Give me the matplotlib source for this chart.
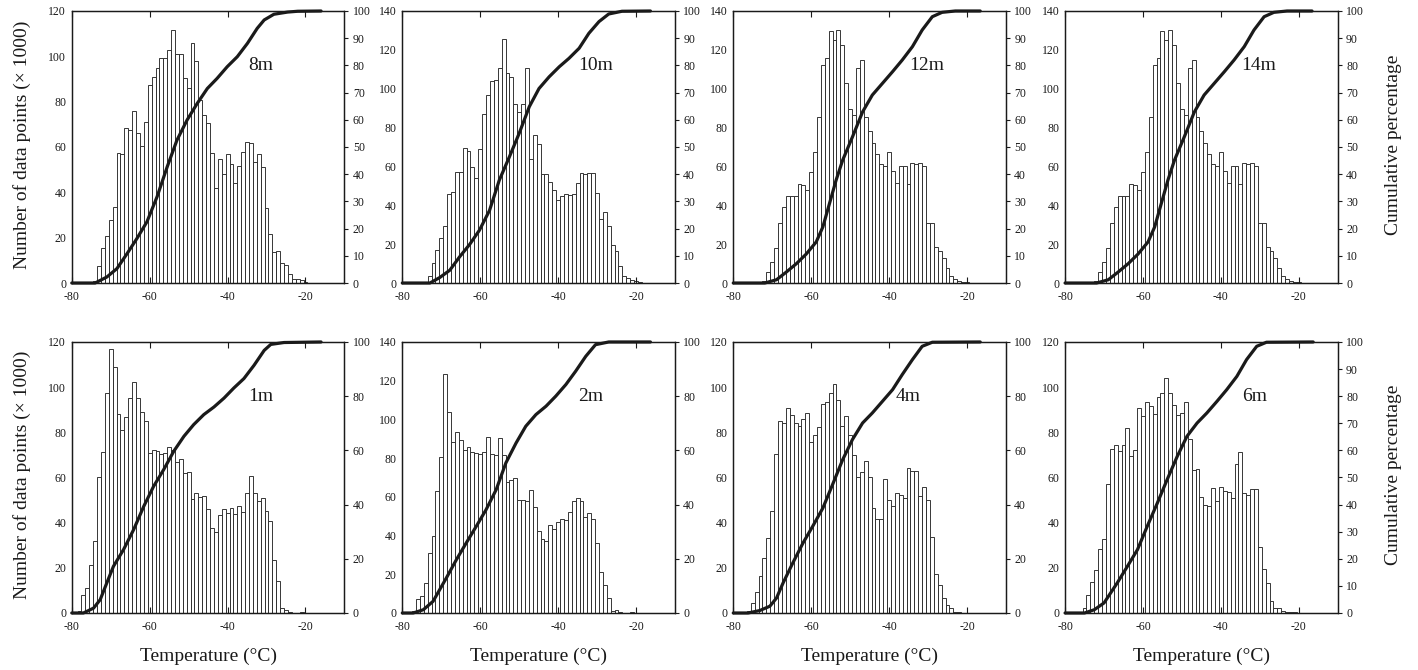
import numpy as np
import matplotlib.pyplot as plt

plt.rcParams['font.family'] = ['Liberation Serif', 'DejaVu Serif']
plt.rcParams['axes.unicode_minus'] = False

# histogram counts (x 1000), 1 degC bins, centre of first bin given by start_*
start_8m = -74
counts_8m = [1, 7.5, 15.3, 20.6, 27.7, 33.6, 57.4, 56.8, 68.2, 67.5, 75.8, 66.3, 60.4, 71, 87.2,
             90.7, 94.7, 99.4, 99.4, 103, 111.6, 100.9, 100.9, 90.3, 85.9, 105.7, 97.9, 80.7,
             74.1, 70.8, 57.4, 41.7, 54.9, 48.3, 56.7, 52.4, 44.2, 51.7, 57.7, 62, 61.9, 53.6,
             57.1, 51.3, 33.3, 21.8, 13.7, 14, 8.8, 7.8, 3.8, 1.9, 1.8, 1.2, 0.3]
start_10m = -73
counts_10m = [3.4, 10.5, 17.2, 23.2, 29.4, 45.7, 46.9, 56.9, 56.9, 69.6, 67.9, 59.8, 54.3, 69.2,
              86.9, 96.7, 104, 104.3, 110.5, 125.8, 108, 106, 92, 88, 92, 110.5, 63.6, 76, 71.5,
              56, 56, 52, 48, 42.6, 45, 46, 45.4, 46, 51.5, 56.7, 56, 56.7, 56.5, 46.5, 33, 36.5,
              29.5, 19.5, 16.5, 9, 3.5, 2.8, 1.8, 1, 0.5]
start_12m = -72
counts_12m = [1, 5.8, 11, 18.2, 30.8, 39, 44.7, 44.7, 44.7, 50.9, 50.2, 48, 57, 67.3, 85.4, 112,
              116, 129.7, 125, 130.4, 122.5, 102.9, 89.3, 86.3, 110.5, 114.9, 85.6, 78, 72.2, 66.3,
              61.5, 60, 67.4, 57.4, 51.4, 60, 60, 50.7, 61.8, 61, 62, 60, 31, 31, 18.6, 16.7, 13,
              7.5, 3.4, 2.2, 1.2, 0.5, 0.5]
start_14m = -72
counts_14m = [1, 5.8, 11, 18.2, 30.8, 39, 44.7, 44.7, 44.7, 50.9, 50.2, 48, 57, 67.3, 85.4, 112,
              116, 129.7, 125, 130.4, 122.5, 102.9, 89.3, 86.3, 110.5, 114.9, 85.6, 78, 72.2, 66.3,
              61.5, 60, 67.4, 57.4, 51.4, 60, 60, 50.7, 61.8, 61, 62, 60, 31, 31, 18.6, 16.7, 13,
              7.5, 3.4, 2.2, 1.2, 0.5, 0.5]
start_1m = -78
counts_1m = [1, 8, 11, 21.4, 31.7, 60.2, 71.2, 97.3, 117, 109, 88, 81.1, 86.8, 95.1, 102.2, 95.1,
             89, 85, 70.8, 72.3, 71.6, 70.3, 71, 73.3, 72, 66.7, 68.2, 61.9, 62.3, 50.6, 53.3, 51.4,
             51.8, 46.2, 37.8, 36, 43.5, 45.9, 44.3, 46.6, 43.8, 47.4, 44.6, 53.3, 60.5, 53.1, 49.6,
             50.9, 45.3, 40.6, 23.6, 14, 2, 1.2, 0.6, 0.2, 0.2, 0.3]
start_2m = -77
counts_2m = [1, 7.2, 8.6, 15.7, 30.8, 39.8, 63, 80.6, 123.6, 103.8, 88.3, 93.6, 89.3, 84.3, 86, 83,
             82.8, 82.3, 83.3, 90.7, 82, 81.5, 90.5, 81.5, 67.8, 68.7, 69.5, 58.2, 58.4, 58, 63.6,
             54.5, 42.5, 38, 37, 45.3, 43.2, 47.2, 48.3, 48, 52.2, 58, 59.2, 57.7, 49.7, 51.6, 48.8,
             36.3, 21.4, 14.5, 7.9, 1.2, 1.4, 0.3, 0.2, 0.2, 0.5, 0.2]
start_4m = -76
counts_4m = [1, 4.6, 9.1, 16.2, 24.5, 33, 45.3, 70.4, 85.2, 84.2, 90.6, 87.6, 84, 82.7, 85.8, 88.5,
             75.9, 79, 82.2, 92.4, 93.2, 97.4, 101.2, 94.1, 82.8, 87, 78.7, 70, 60, 62.3, 67.1, 60,
             46.6, 41.5, 41.6, 59.2, 50, 47.5, 53.3, 52.3, 51.1, 64.4, 62.8, 62.8, 51.8, 55.7, 49.9,
             33.5, 17.1, 12.3, 6.8, 3.7, 2.2, 0.5, 0.3]
start_6m = -75
counts_6m = [2.4, 7.8, 13.5, 18.9, 28.4, 32.6, 57, 72.6, 74.5, 71.8, 74.6, 81.7, 69.4, 72.3, 90.6,
             87.4, 93.2, 91.6, 88, 95.6, 97.6, 104, 97.5, 91.9, 87.8, 88.6, 93.4, 76.9, 63.5, 63.7,
             51.5, 47.9, 47.3, 55.4, 49.7, 55.9, 54.1, 53.7, 51.1, 65.9, 71.3, 53.3, 52.4, 54.8,
             54.9, 29.3, 19.3, 13.1, 5.5, 2.3, 2, 1, 0.4, 0.3, 0.3]

# cumulative percentage curves (temperature, percent)
cum_t_8m = [-80, -74, -71, -68.4, -65.8, -63.3, -60.7, -58.1, -55.5, -53, -50.4, -47.8, -45.2,
            -42.7, -40.1, -37.5, -34.9, -32.4, -30.6, -28.1, -24.6, -22, -16]
cum_p_8m = [0, 0, 2.2, 5.3, 10.8, 16.3, 22.5, 31.7, 42.7, 52.5, 59.9, 66, 71.5, 75.2, 79.5, 83.2,
            88.1, 93.6, 96.7, 98.8, 99.6, 99.9, 100]
cum_t_10m = [-80, -72.9, -70.4, -67.8, -65.3, -62.7, -60.2, -57.6, -55.1, -52.5, -50, -47.4, -44.9,
             -42.3, -39.7, -37.2, -34.6, -32.1, -29.5, -27, -23.6, -16.3]
cum_p_10m = [0, 0, 2, 4.7, 9.6, 14.2, 19.4, 26.7, 37.8, 46.4, 55, 64.8, 71.5, 75.8, 79.5, 82.6,
             86.3, 91.8, 96.1, 98.9, 99.9, 100]
cum_t_12m = [-80, -71.9, -68.9, -66.4, -63.8, -61.3, -58.7, -57, -55.3, -53.6, -51.9, -49.4, -46.8,
             -44.3, -41.7, -39.1, -36.6, -34, -31.5, -28.9, -26.4, -23, -16.6]
cum_p_12m = [0, 0, 1.2, 4, 7.1, 10.6, 15.1, 20.6, 29.2, 37.8, 45.2, 53.7, 62.9, 69.1, 73.4, 77.7,
             82, 86.9, 93, 97.9, 99.5, 100, 100]
cum_t_14m = cum_t_12m
cum_p_14m = cum_p_12m
cum_t_1m = [-80, -77, -74.4, -72.7, -71, -69.3, -66.7, -64.1, -61.5, -59, -56.4, -53.8, -51.2,
            -48.7, -46.1, -43.5, -40.9, -38.4, -35.8, -33.2, -30.6, -28.9, -25.5, -16]
cum_p_1m = [0, 0, 1.8, 4.9, 11.1, 17.2, 23.4, 30.8, 39.4, 46.7, 52.9, 59.7, 65.2, 69.5, 73.2, 76,
            79.3, 83, 86.5, 91.4, 96.9, 99.1, 99.8, 100]
cum_t_2m = [-80, -77.2, -74.6, -72.1, -70.4, -68.7, -66.1, -63.6, -61, -58.5, -55.9, -53.4, -50.8,
            -48.3, -45.7, -43.1, -40.6, -38, -35.5, -32.9, -30.4, -27, -16.3]
cum_p_2m = [0, 0, 1.2, 4.3, 8.6, 12.9, 19.7, 25.8, 32, 38.1, 45.5, 55.4, 62.7, 68.9, 73.2, 76.3,
            80, 84.3, 89.2, 94.7, 99, 100, 100]
cum_t_4m = [-80, -76.2, -73.2, -70.6, -68.9, -67.2, -64.7, -62.1, -59.6, -57, -54.5, -51.9, -49.4,
            -46.8, -44.3, -41.7, -39.1, -36.6, -34, -31.5, -28.9, -16.6]
cum_p_4m = [0, 0, 0.9, 2.5, 5.5, 11.1, 18.5, 25.8, 32, 38.7, 47.4, 56.6, 64, 70.1, 73.8, 78.1,
            82.4, 88, 93.5, 98.4, 99.9, 100]
cum_t_6m = [-80, -75, -72.5, -70, -68.3, -66.6, -64, -61.4, -58.9, -56.3, -53.8, -51.2, -48.7,
            -46.1, -43.6, -41, -38.5, -35.9, -33.4, -30.8, -28.3, -16.3]
cum_p_6m = [0, 0, 1.2, 3.7, 7.4, 11.1, 17.2, 23.4, 32, 40.6, 49.2, 57.8, 65.2, 70.1, 73.8, 78.1,
            82.4, 87.3, 93.5, 98.4, 99.9, 100]

# label, start, counts, curve, left ymax, right tick step, label x (axes frac), row, col
panels = [
    ("8m", start_8m, counts_8m, cum_t_8m, cum_p_8m, 120, 10, 0.693, 0, 0),
    ("10m", start_10m, counts_10m, cum_t_10m, cum_p_10m, 140, 10, 0.71, 0, 1),
    ("12m", start_12m, counts_12m, cum_t_12m, cum_p_12m, 140, 10, 0.711, 0, 2),
    ("14m", start_14m, counts_14m, cum_t_14m, cum_p_14m, 140, 10, 0.71, 0, 3),
    ("1m", start_1m, counts_1m, cum_t_1m, cum_p_1m, 120, 20, 0.694, 1, 0),
    ("2m", start_2m, counts_2m, cum_t_2m, cum_p_2m, 140, 20, 0.692, 1, 1),
    ("4m", start_4m, counts_4m, cum_t_4m, cum_p_4m, 120, 20, 0.642, 1, 2),
    ("6m", start_6m, counts_6m, cum_t_6m, cum_p_6m, 120, 10, 0.694, 1, 3),
]

lefts = [0.0506, 0.2837, 0.5171, 0.7511]
width = 0.1923
bottoms = [0.5776, 0.0851]
heights = [0.406, 0.4045]

fig = plt.figure(figsize=(14.18, 6.70), dpi=100)
ink = '#1a1a1a'
tick_fs = 8.5

for label, start, counts, ct, cp, ymax, step, lx, row, col in panels:
    ax = fig.add_axes([lefts[col], bottoms[row], width, heights[row]])
    centers = start + np.arange(len(counts))
    ax.bar(centers, counts, width=1.0, color='white', edgecolor='#2a2a2a', linewidth=0.65)
    ax.set_xlim(-80, -10)
    ax.set_ylim(0, ymax)
    ax.set_xticks([-80, -60, -40, -20])
    ax.set_yticks(range(0, ymax + 1, 20))
    ax.tick_params(axis='x', direction='in', top=True, length=4, width=0.8,
                   labelsize=tick_fs, pad=6, colors=ink)
    ax.tick_params(axis='y', length=0, labelsize=tick_fs, pad=4, colors=ink)
    for s in ax.spines.values():
        s.set_linewidth(0.9)
        s.set_color(ink)

    ax2 = ax.twinx()
    ax2.plot(ct, cp, color=ink, lw=2.3, solid_capstyle='round', solid_joinstyle='round',
             clip_on=False)
    ax2.set_ylim(0, 100)
    ax2.set_yticks(range(0, 101, step))
    ax2.tick_params(axis='y', direction='out', length=3, width=0.8, labelsize=tick_fs,
                    pad=3, colors=ink)
    for s in ax2.spines.values():
        s.set_linewidth(0.9)
        s.set_color(ink)

    ax.text(lx, 0.80, label, transform=ax.transAxes, fontsize=14, ha='center', va='center',
            color=ink)

    if row == 1:
        ax.text(0.5, -0.16, "Temperature (°C)", transform=ax.transAxes, fontsize=14,
                ha='center', va='center', color=ink)

for yc in [0.7836, 0.291]:
    fig.text(0.0155, yc, "Number of data points (× 1000)", rotation=90, fontsize=14,
             ha='center', va='center', color=ink)
    fig.text(0.9824, yc, "Cumulative percentage", rotation=90, fontsize=14,
             ha='center', va='center', color=ink)

fig.savefig("out.png", dpi=100)
